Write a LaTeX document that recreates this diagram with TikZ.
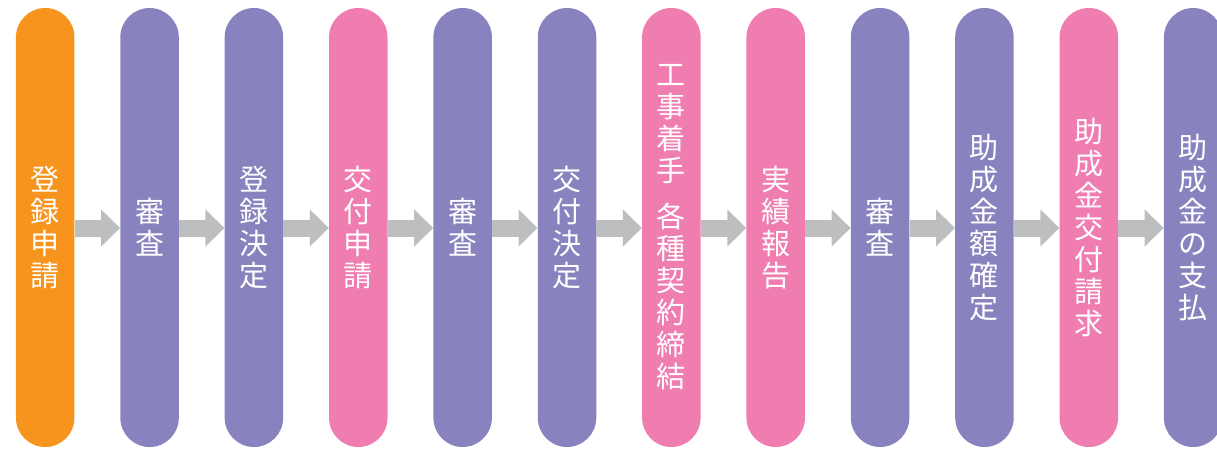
\documentclass[tikz,border=0pt]{standalone}
\usepackage{fontspec}
\newfontfamily\cjk{Noto Sans CJK JP}
\usetikzlibrary{arrows.meta}
\definecolor{orangeC}{HTML}{F7941D}
\definecolor{purpleC}{HTML}{8882BE}
\definecolor{pinkC}{HTML}{F07DAF}
\definecolor{arrowC}{HTML}{BCBEC0}
\tikzset{
  pill/.style={rectangle, rounded corners=29.25pt, minimum width=58.5pt, minimum height=439pt,
    inner sep=0pt, text=white, align=center, draw=none,
    font=\cjk\fontsize{29}{32}\selectfont},
  po/.style={pill, fill=orangeC},
  pp/.style={pill, fill=purpleC},
  pk/.style={pill, fill=pinkC},
  flow/.style={draw=arrowC, line width=17pt, -{Triangle[width=36pt,length=19pt]}, arrowC}
}
\begin{document}
\begin{tikzpicture}[x=1pt,y=-1pt]
\useasboundingbox (0,0) rectangle (1217,450);
\clip (0,0) rectangle (1217,450);
\node[po] (p1)  at (45.2,227.5)   {登\\録\\申\\請};
\node[pp] (p2)  at (149.56,227.5) {審\\査};
\node[pp] (p3)  at (253.92,227.5) {登\\録\\決\\定};
\node[pk] (p4)  at (358.28,227.5) {交\\付\\申\\請};
\node[pp] (p5)  at (462.64,227.5) {審\\査};
\node[pp] (p6)  at (567.0,227.5)  {交\\付\\決\\定};
\node[pk] (p7)  at (671.36,227.5) {工\\事\\着\\手\\[14pt]各\\種\\契\\約\\締\\結};
\node[pk] (p8)  at (775.72,227.5) {実\\績\\報\\告};
\node[pp] (p9)  at (880.08,227.5) {審\\査};
\node[pp] (p10) at (984.44,227.5) {助\\成\\金\\額\\確\\定};
\node[pk] (p11) at (1088.8,227.5) {助\\成\\金\\交\\付\\請\\求};
\node[pp] (p12) at (1193.16,227.5) {助\\成\\金\\の\\支\\払};
\foreach \a/\b in {p1/p2,p2/p3,p3/p4,p4/p5,p5/p6,p6/p7,p7/p8,p8/p9,p9/p10,p10/p11,p11/p12}
  \draw[flow] ([yshift=-0.5pt]\a.east) -- ([yshift=-0.5pt]\b.west);
\end{tikzpicture}
\end{document}
